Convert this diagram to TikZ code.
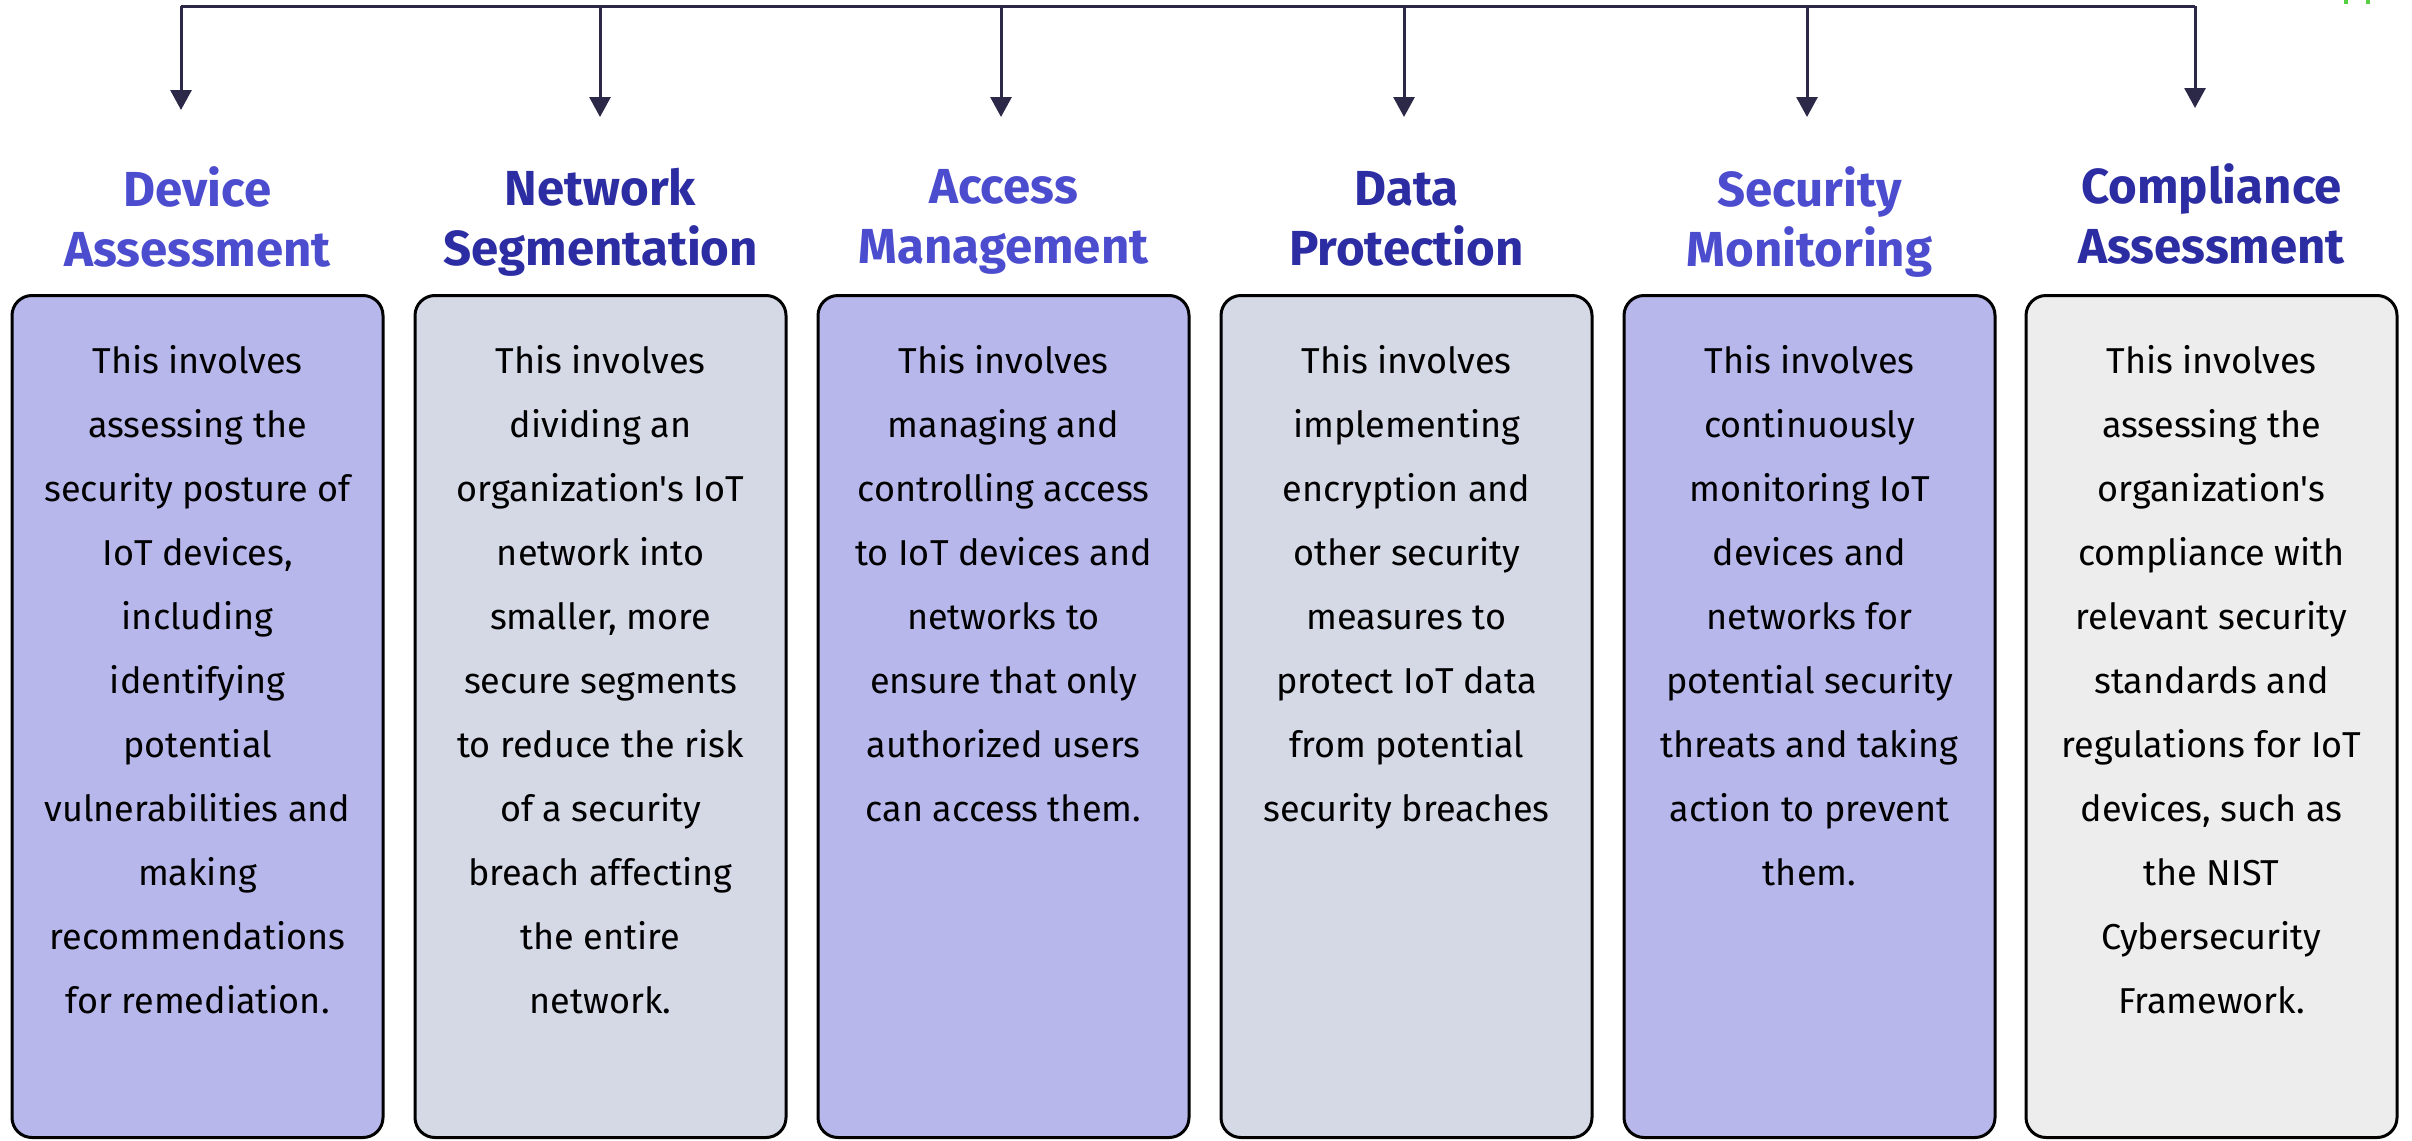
\documentclass[tikz,border=0pt]{standalone}
\usepackage{fontspec}
\setmainfont{Fira Sans}[Ligatures=TeXOff]
\usetikzlibrary{arrows.meta}
\definecolor{boxpurple}{HTML}{B7B7EB}
\definecolor{boxgray}{HTML}{D5D9E6}
\definecolor{boxlight}{HTML}{EDEDED}
\definecolor{titlelight}{HTML}{4C4CCF}
\definecolor{titledark}{HTML}{2D2DA3}
\definecolor{arrowcol}{HTML}{2B2848}
\definecolor{tickgreen}{HTML}{55D040}
\begin{document}
\begin{tikzpicture}[x=0.5pt,y=-0.5pt,
  cardbox/.style={draw=black, line width=1.5pt, rounded corners=10pt,
    minimum width=185.5pt, minimum height=421pt, inner sep=0pt},
  bodytext/.style={anchor=north, inner sep=0pt, align=center,
    font=\fontsize{18}{32}\selectfont, text=black},
  titletext/.style={anchor=north, inner sep=0pt, align=center,
    font=\fontsize{24.6}{30}\selectfont\bfseries},
  linkline/.style={draw=arrowcol, line width=1.5pt},
  linkarrow/.style={draw=arrowcol, line width=1.5pt,
    -{Triangle[length=10pt,width=10.5pt]}}
]
\useasboundingbox (0,0) rectangle (2412,1140);
\newcommand{\fs}{\rule{0pt}{16pt}}
\newcommand{\ft}{\rule{0pt}{24pt}}

% boxes
\node[cardbox, fill=boxpurple] (b1) at (197.5,716.5) {};
\node[cardbox, fill=boxgray]   (b2) at (600.5,716.5) {};
\node[cardbox, fill=boxpurple] (b3) at (1003.5,716.5) {};
\node[cardbox, fill=boxgray]   (b4) at (1406.5,716.5) {};
\node[cardbox, fill=boxpurple] (b5) at (1809.5,716.5) {};
\node[cardbox, fill=boxlight]  (b6) at (2211.5,716.5) {};

% titles
\node[titletext, text=titlelight] (t1) at (197.5,158) {\ft Device\\Assessment};
\node[titletext, text=titledark]  (t2) at (600.5,157) {\ft Network\\Segmentation};
\node[titletext, text=titlelight] (t3) at (1003.5,155) {\ft Access\\Management};
\node[titletext, text=titledark]  (t4) at (1406.5,157) {\ft Data\\Protection};
\node[titletext, text=titlelight] (t5) at (1809.5,158) {\ft Security\\Monitoring};
\node[titletext, text=titledark]  (t6) at (2211.5,155) {\ft Compliance\\Assessment};

% body texts
\node[bodytext] (d1) at (197.5,341) {\fs This involves\\assessing the\\security posture of\\IoT devices,\\including\\identifying\\potential\\vulnerabilities and\\making\\recommendations\\for remediation.};
\node[bodytext] (d2) at (600.5,341) {\fs This involves\\dividing an\\organization's IoT\\network into\\smaller, more\\secure segments\\to reduce the risk\\of a security\\breach affecting\\the entire\\network.};
\node[bodytext] (d3) at (1003.5,341) {\fs This involves\\managing and\\controlling access\\to IoT devices and\\networks to\\ensure that only\\authorized users\\can access them.};
\node[bodytext] (d4) at (1406.5,341) {\fs This involves\\implementing\\encryption and\\other security\\measures to\\protect IoT data\\from potential\\security breaches};
\node[bodytext] (d5) at (1809.5,341) {\fs This involves\\continuously\\monitoring IoT\\devices and\\networks for\\potential security\\threats and taking\\action to prevent\\them.};
\node[bodytext] (d6) at (2211.5,341) {\fs This involves\\assessing the\\organization's\\compliance with\\relevant security\\standards and\\regulations for IoT\\devices, such as\\the NIST\\Cybersecurity\\Framework.};

% connector coordinates
\coordinate (h1) at (181,6);
\coordinate (h2) at (600,6);
\coordinate (h3) at (1001,6);
\coordinate (h4) at (1404,6);
\coordinate (h5) at (1807,6);
\coordinate (h6) at (2195,6);
\coordinate (a1) at (181,110);
\coordinate (a2) at (600,117);
\coordinate (a3) at (1001,117);
\coordinate (a4) at (1404,117);
\coordinate (a5) at (1807,117);
\coordinate (a6) at (2195,108);

\draw[linkline] (h1) -- (h6);
\foreach \i in {1,...,6} {\draw[linkarrow] (h\i) -- (a\i);}

% clipped green marks at the top right
\fill[tickgreen] (2344,0) rectangle (2348,4);
\fill[tickgreen] (2366,0) rectangle (2370,4);
\end{tikzpicture}
\end{document}
